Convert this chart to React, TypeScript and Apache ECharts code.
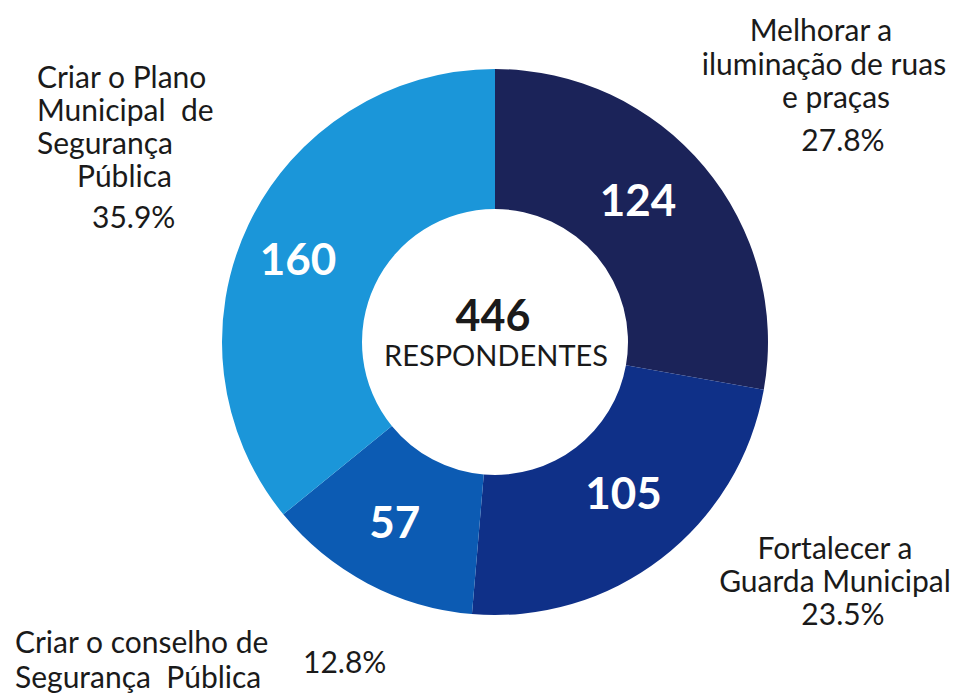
import React, { useEffect, useRef } from "react";
import * as echarts from "echarts";

// ---- data ----
const categories: string[][] = [
  ["Melhorar a", "iluminação de ruas", "e praças"],
  ["Fortalecer a", "Guarda Municipal"],
  ["Criar o conselho de", "Segurança  Pública"],
  ["Criar o Plano", "Municipal  de", "Segurança", "Pública"],
];
const values: number[] = [124, 105, 57, 160];
const totalLabel = "RESPONDENTES";

// ---- styles / layout ----
const colors = ["#1b2359", "#0f3088", "#0c5bb3", "#1b96d9"];
const FONT = "Lato, 'Open Sans', sans-serif";
const TEXT_COLOR = "#1a1a1a";
const FS = 30;

// [x, baseline, align]
type Pos = [number, number, "left" | "center"];
const namePos: Pos[][] = [
  [[821, 38, "center"], [824, 72, "center"], [836, 105, "center"]],
  [[835, 556, "center"], [835, 589, "center"]],
  [[15, 650, "left"], [15, 685, "left"]],
  [[37, 85, "left"], [37, 118, "left"], [37, 151, "left"], [77, 184, "left"]],
];
const pctPos: Pos[] = [
  [843, 148, "center"],
  [843, 622, "center"],
  [303, 670, "left"],
  [92, 225, "left"],
];
const labelOffsets: [number, number][] = [
  [-15, -11],
  [3, -13],
  [-4, -3],
  [-11, 4],
];

export default function App() {
  const ref = useRef<HTMLDivElement>(null);
  useEffect(() => {
    document.body.style.margin = "0";
    const chart = echarts.init(ref.current!, undefined, { renderer: "svg" });
    const total = values.reduce((a, b) => a + b, 0);

    const graphics: any[] = [];
    const txt = (text: string, p: Pos, size: number, weight = "normal") => ({
      type: "text",
      x: p[0],
      y: p[1] + Math.round(size * 0.21),
      style: {
        text,
        fill: TEXT_COLOR,
        font: `${weight} ${size}px ${FONT}`,
        textAlign: p[2],
        textVerticalAlign: "bottom",
      },
    });
    categories.forEach((lines, i) => {
      lines.forEach((line, j) => {
        graphics.push(txt(line, namePos[i][j], FS));
      });
      const pct = ((values[i] / total) * 100).toFixed(1) + "%";
      graphics.push(txt(pct, pctPos[i], FS));
    });
    graphics.push(txt(String(total), [493, 327, "center"], 43, "bold"));
    graphics.push(txt(totalLabel, [496, 363, "center"], 29));

    chart.setOption({
      animation: false,
      backgroundColor: "#ffffff",
      color: colors,
      series: [
        {
          type: "pie",
          center: [495, 342],
          radius: [133, 273],
          startAngle: 90,
          clockwise: true,
          silent: true,
          label: {
            show: true,
            position: "inside",
            formatter: "{c}",
            color: "#ffffff",
            fontFamily: FONT,
            fontWeight: "bold",
            fontSize: 44,
          },
          labelLine: { show: false },
          data: values.map((v, i) => ({
            value: v,
            name: categories[i].join(" "),
            label: { offset: labelOffsets[i] },
          })),
        },
      ],
      graphic: graphics,
    });
    return () => chart.dispose();
  }, []);
  return <div ref={ref} style={{ width: 956, height: 694 }} />;
}
